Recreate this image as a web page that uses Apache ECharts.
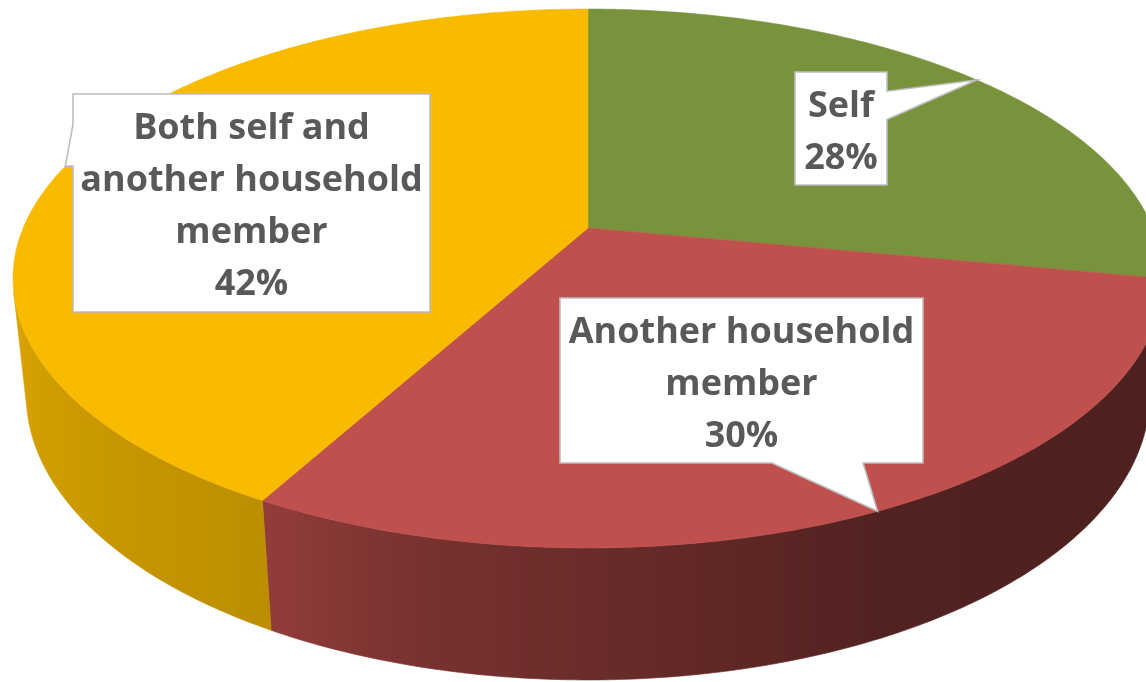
<!DOCTYPE html>
<html>
<head>
<meta charset="utf-8">
<script src="https://cdn.jsdelivr.net/npm/echarts@6/dist/echarts.min.js"></script>
<style>
  html, body { margin: 0; padding: 0; background: #ffffff; }
  #chart { width: 1146px; height: 682px; }
</style>
</head>
<body>
<div id="chart"></div>
<script>
// ---- data ----
const categories = ['Self', 'Another household member', 'Both self and another household member'];
const labelNames = ['Self', 'Another household\nmember', 'Both self and\nanother household\nmember'];
const shares = [28, 30, 42];

// ---- styling ----
const sliceColors = ['#78933C', '#C0504D', '#F8BB00'];
// brightness of the outer wall as a function of its angle (degrees, clockwise from the far side)
const wallLight = [[90, 0.40], [140, 0.41], [155, 0.43], [180, 0.55], [195, 0.63], [209, 0.76], [255, 0.87], [270, 0.88]];

// camera used to tilt the pie into a perspective view
const view = {
  cx: 588, cy: 228,     // projected pie centre
  scale: 564.8,         // projected radius
  sinTilt: 0.4603,      // sine of the viewing tilt
  persp: 0.2111,        // radius / camera distance
  thickness: 0.2345     // wall height / radius
};
const cosTilt = Math.sqrt(1 - view.sinTilt * view.sinTilt);

// callout boxes: [left, top, right, bottom] and where the pointer leaves the box
const callouts = [
  { box: [795, 72, 887, 185], tail: { edge: 'right', from: 0.17, to: 0.42 } },
  { box: [560, 298, 923, 463], tail: { edge: 'bottom', from: 0.584, to: 0.835 } },
  { box: [73, 94, 430, 312], tail: { edge: 'left', from: 0.14, to: 0.33 } }
];
const textNudge = 4; // baseline correction for the label font

const total = shares.reduce((a, b) => a + b, 0);
function sliceRange(i) {
  let start = 0;
  for (let k = 0; k < i; k++) start += shares[k] / total * 360;
  return [start, start + shares[i] / total * 360];
}

// project a rim point at angle theta (deg) and height y (0 = top face, negative = below)
function project(theta, y) {
  const t = theta * Math.PI / 180;
  const X = Math.sin(t), Z = Math.cos(t);
  const d = 1 + (Z * cosTilt - y * view.sinTilt) * view.persp;
  return [view.cx + view.scale * X / d, view.cy - view.scale * (Z * view.sinTilt + y * cosTilt) / d];
}

function lightAt(theta) {
  if (theta <= wallLight[0][0]) return wallLight[0][1];
  for (let i = 1; i < wallLight.length; i++) {
    if (theta <= wallLight[i][0]) {
      const [a, fa] = wallLight[i - 1], [b, fb] = wallLight[i];
      return fa + (fb - fa) * (theta - a) / (b - a);
    }
  }
  return wallLight[wallLight.length - 1][1];
}

function shade(hex, f) {
  const n = parseInt(hex.slice(1), 16);
  const r = Math.round(((n >> 16) & 255) * f), g = Math.round(((n >> 8) & 255) * f), b = Math.round((n & 255) * f);
  return 'rgb(' + r + ',' + g + ',' + b + ')';
}

function arcSteps(a, b) {
  const n = Math.max(2, Math.ceil((b - a) / 0.75));
  const out = [];
  for (let i = 0; i <= n; i++) out.push(a + (b - a) * i / n);
  return out;
}

// front-facing part of the outer wall
const wallVisible = Math.acos(-view.persp / cosTilt) * 180 / Math.PI;

function renderWall(params, api) {
  const i = params.dataIndex;
  const [s, e] = sliceRange(i);
  const a = Math.max(s, wallVisible), b = Math.min(e, 360 - wallVisible);
  if (b <= a) return null;
  const angles = arcSteps(a, b);
  const h = -view.thickness;
  const topPts = angles.map(t => project(t, 0));
  const botPts = angles.map(t => project(t, h)).reverse();
  const samples = angles.map(t => {
    const p = project(t, 0), q = project(t, h);
    return { x: (p[0] + q[0]) / 2, c: shade(sliceColors[i], lightAt(t)) };
  }).sort((u, v) => u.x - v.x);
  const x0 = samples[0].x, x1 = samples[samples.length - 1].x;
  const span = Math.max(1, x1 - x0);
  const stops = samples.map(sm => ({ offset: Math.min(1, Math.max(0, (sm.x - x0) / span)), color: sm.c }));
  const grad = { type: 'linear', x: x0, y: 0, x2: x0 + span, y2: 0, global: true, colorStops: stops };
  return {
    type: 'polygon',
    shape: { points: topPts.concat(botPts) },
    style: { fill: grad, stroke: grad, lineWidth: 0.6 }
  };
}

function renderTop(params, api) {
  const i = params.dataIndex;
  const [s, e] = sliceRange(i);
  const pts = [[view.cx, view.cy]].concat(arcSteps(s, e).map(t => project(t, 0)));
  return {
    type: 'polygon',
    shape: { points: pts },
    style: { fill: sliceColors[i], stroke: sliceColors[i], lineWidth: 0.6 }
  };
}

function calloutPoints(box, tail, tip) {
  const [x0, y0, x1, y1] = box;
  const w = x1 - x0, h = y1 - y0;
  const pts = [[x0, y0]];
  if (tail.edge === 'top') pts.push([x0 + w * tail.from, y0], tip, [x0 + w * tail.to, y0]);
  pts.push([x1, y0]);
  if (tail.edge === 'right') pts.push([x1, y0 + h * tail.from], tip, [x1, y0 + h * tail.to]);
  pts.push([x1, y1]);
  if (tail.edge === 'bottom') pts.push([x0 + w * tail.to, y1], tip, [x0 + w * tail.from, y1]);
  pts.push([x0, y1]);
  if (tail.edge === 'left') pts.push([x0, y0 + h * tail.to], tip, [x0, y0 + h * tail.from]);
  return pts;
}

function renderCallout(params, api) {
  const i = params.dataIndex;
  const [s, e] = sliceRange(i);
  const tip = project((s + e) / 2, 0);
  const c = callouts[i];
  const [x0, y0, x1, y1] = c.box;
  const pct = Math.round(api.value(0) / total * 100);
  return {
    type: 'group',
    children: [
      {
        type: 'polygon',
        shape: { points: calloutPoints(c.box, c.tail, tip) },
        style: { fill: '#ffffff', stroke: '#BDBDBD', lineWidth: 1.6, lineJoin: 'miter' }
      },
      {
        type: 'text',
        style: {
          text: labelNames[i] + '\n' + pct + '%',
          x: (x0 + x1) / 2, y: (y0 + y1) / 2 + textNudge,
          align: 'center', verticalAlign: 'middle',
          fontFamily: 'Open Sans', fontWeight: 'bold', fontSize: 36, lineHeight: 52,
          fill: '#595959'
        }
      }
    ]
  };
}

const seriesData = shares.map((v, i) => ({ name: categories[i], value: v }));

const chart = echarts.init(document.getElementById('chart'), null, { renderer: 'canvas' });
chart.setOption({
  animation: false,
  backgroundColor: '#ffffff',
  series: [
    { type: 'custom', name: 'wall', coordinateSystem: 'none', silent: true, z: 1, data: seriesData, renderItem: renderWall },
    { type: 'custom', name: 'top', coordinateSystem: 'none', silent: true, z: 2, data: seriesData, renderItem: renderTop },
    { type: 'custom', name: 'labels', coordinateSystem: 'none', silent: true, z: 3, data: seriesData, renderItem: renderCallout }
  ]
});
</script>
</body>
</html>
